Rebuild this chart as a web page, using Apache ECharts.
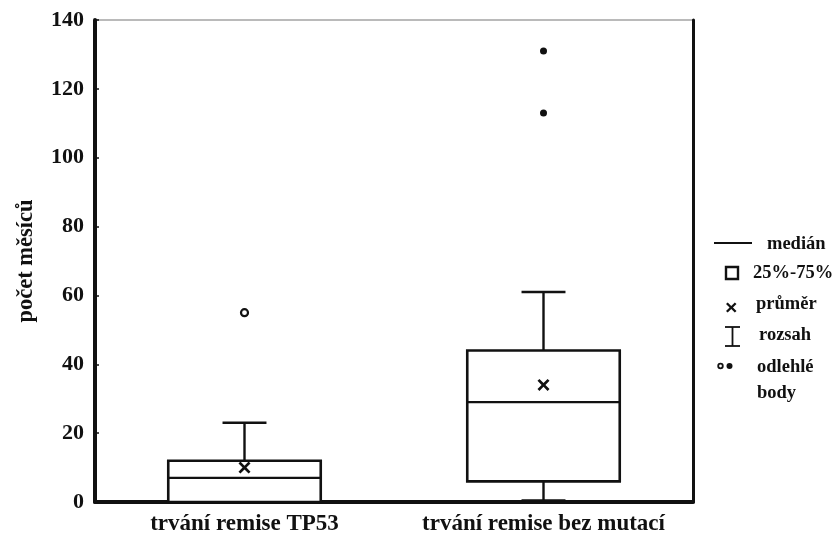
<!DOCTYPE html>
<html><head><meta charset="utf-8">
<script src="https://cdn.jsdelivr.net/npm/echarts@6/dist/echarts.min.js"></script>
<style>html,body{margin:0;padding:0;background:#fff}#c{width:835px;height:542px}</style>
</head><body><div id="c"></div>
<script>
const categories = ['trvání remise TP53', 'trvání remise bez mutací'];
const minVals = [0, 0];
const q1Vals = [0, 6];
const medianVals = [7, 29];
const q3Vals = [12, 44];
const maxVals = [23, 61];
const meanVals = [10, 34];
const outliersHollow = [[0, 55]];
const outliersFilled = [[1, 113], [1, 131]];
const yTicks = [0, 20, 40, 60, 80, 100, 120, 140];

const FONT = '"Liberation Serif", "DejaVu Serif", serif';
const boxData = categories.map((c, i) => [i, minVals[i], q1Vals[i], medianVals[i], q3Vals[i], maxVals[i]]);

function renderBox(params, api) {
  const idx = api.value(0);
  const band = api.size([1, 0])[0];
  const bw = band * 0.51, cw = band * 0.147;
  const pMin = api.coord([idx, api.value(1)]);
  const pQ1 = api.coord([idx, api.value(2)]);
  const pMed = api.coord([idx, api.value(3)]);
  const pQ3 = api.coord([idx, api.value(4)]);
  const pMax = api.coord([idx, api.value(5)]);
  const x = pMin[0];
  const st = {stroke: '#111', lineWidth: 2.4, fill: null};
  const ch = [];
  ch.push({type: 'line', shape: {x1: x, y1: pQ3[1], x2: x, y2: pMax[1]}, style: st});
  ch.push({type: 'line', shape: {x1: x - cw / 2, y1: pMax[1], x2: x + cw / 2, y2: pMax[1]}, style: st});
  ch.push({type: 'line', shape: {x1: x, y1: pQ1[1], x2: x, y2: pMin[1]}, style: st});
  ch.push({type: 'line', shape: {x1: x - cw / 2, y1: pMin[1] - 1.5, x2: x + cw / 2, y2: pMin[1] - 1.5}, style: st});
  ch.push({type: 'rect', shape: {x: x - bw / 2, y: pQ3[1], width: bw, height: pQ1[1] - pQ3[1]}, style: {stroke: '#111', lineWidth: 2.6, fill: '#fff'}});
  ch.push({type: 'line', shape: {x1: x - bw / 2, y1: pMed[1], x2: x + bw / 2, y2: pMed[1]}, style: st});
  return {type: 'group', children: ch};
}

const xPath = 'path://M0,1.6L1.6,0L5,3.4L8.4,0L10,1.6L6.6,5L10,8.4L8.4,10L5,6.6L1.6,10L0,8.4L3.4,5Z';
const xPts = [[0,1.6],[1.6,0],[5,3.4],[8.4,0],[10,1.6],[6.6,5],[10,8.4],[8.4,10],[5,6.6],[1.6,10],[0,8.4],[3.4,5]];

function lt(text, x, y) {
  return {type: 'text', x: x, y: y, style: {text: text, font: 'bold 18.5px ' + FONT, fill: '#111', textVerticalAlign: 'middle'}};
}
const option = {
  animation: false,
  backgroundColor: '#fff',
  grid: {left: 95, right: 142, top: 20, bottom: 40, show: true, borderColor: '#777', borderWidth: 1.2, backgroundColor: 'transparent'},
  xAxis: [{
    type: 'category', data: categories, position: 'bottom',
    axisLine: {show: true, lineStyle: {color: '#111', width: 4}},
    axisTick: {show: false},
    axisLabel: {color: '#111', fontFamily: FONT, fontWeight: 'bold', fontSize: 23, margin: 11, interval: 0},
    splitLine: {show: false}
  }],
  yAxis: [{
    type: 'value', min: 0, max: 140, interval: 20, position: 'left',
    name: 'počet měsíců', nameLocation: 'middle', nameGap: 57, nameRotate: 90,
    nameTextStyle: {color: '#111', fontFamily: FONT, fontWeight: 'bold', fontSize: 22.5},
    axisLine: {show: true, lineStyle: {color: '#111', width: 4}},
    axisTick: {show: true, inside: true, length: 4, lineStyle: {color: '#111', width: 1.5}},
    axisLabel: {color: '#111', fontFamily: FONT, fontWeight: 'bold', fontSize: 22, margin: 11,
      formatter: v => yTicks.includes(v) ? String(v) : ''},
    splitLine: {show: false}
  }, {
    type: 'value', min: 0, max: 140, interval: 20, position: 'right',
    axisLine: {show: true, lineStyle: {color: '#111', width: 3}},
    axisTick: {show: false}, axisLabel: {show: false}, splitLine: {show: false}
  }],
  series: [{
    type: 'custom', renderItem: renderBox, data: boxData,
    encode: {x: 0, y: [1, 2, 3, 4, 5]}, z: 2
  }, {
    type: 'scatter', data: categories.map((c, i) => [i, meanVals[i]]),
    symbol: xPath, symbolSize: 12, itemStyle: {color: '#111', opacity: 1}, z: 5
  }, {
    type: 'scatter', data: outliersHollow, symbol: 'circle', symbolSize: 7,
    itemStyle: {color: '#fff', borderColor: '#111', borderWidth: 2.2, opacity: 1}, z: 5
  }, {
    type: 'scatter', data: outliersFilled, symbol: 'circle', symbolSize: 7,
    itemStyle: {color: '#111', opacity: 1}, z: 5
  }],
  graphic: [
    {type: 'line', shape: {x1: 714, y1: 243, x2: 752, y2: 243}, style: {stroke: '#111', lineWidth: 2.2}},
    lt('medián', 767, 244),
    {type: 'rect', shape: {x: 726, y: 267, width: 12, height: 12}, style: {stroke: '#111', lineWidth: 2.4, fill: '#fff'}},
    lt('25%-75%', 753, 273),
    {type: 'polygon', shape: {points: xPts.map(p => [726 + p[0] * 1.05, 302.5 + p[1] * 1.0])}, style: {fill: '#111'}},
    lt('průměr', 756, 304),
    {type: 'line', shape: {x1: 725, y1: 327, x2: 740, y2: 327}, style: {stroke: '#111', lineWidth: 1.8}},
    {type: 'line', shape: {x1: 732.5, y1: 327, x2: 732.5, y2: 346}, style: {stroke: '#111', lineWidth: 1.8}},
    {type: 'line', shape: {x1: 725, y1: 346, x2: 740, y2: 346}, style: {stroke: '#111', lineWidth: 1.8}},
    lt('rozsah', 759, 335),
    {type: 'circle', shape: {cx: 720.5, cy: 366, r: 2.3}, style: {stroke: '#111', lineWidth: 1.8, fill: '#fff'}},
    {type: 'circle', shape: {cx: 729.5, cy: 366, r: 3}, style: {fill: '#111'}},
    lt('odlehlé', 757, 367),
    lt('body', 757, 393)
  ]
};
const chart = echarts.init(document.getElementById('c'), null, {renderer: 'canvas'});
chart.setOption(option);
</script></body></html>
